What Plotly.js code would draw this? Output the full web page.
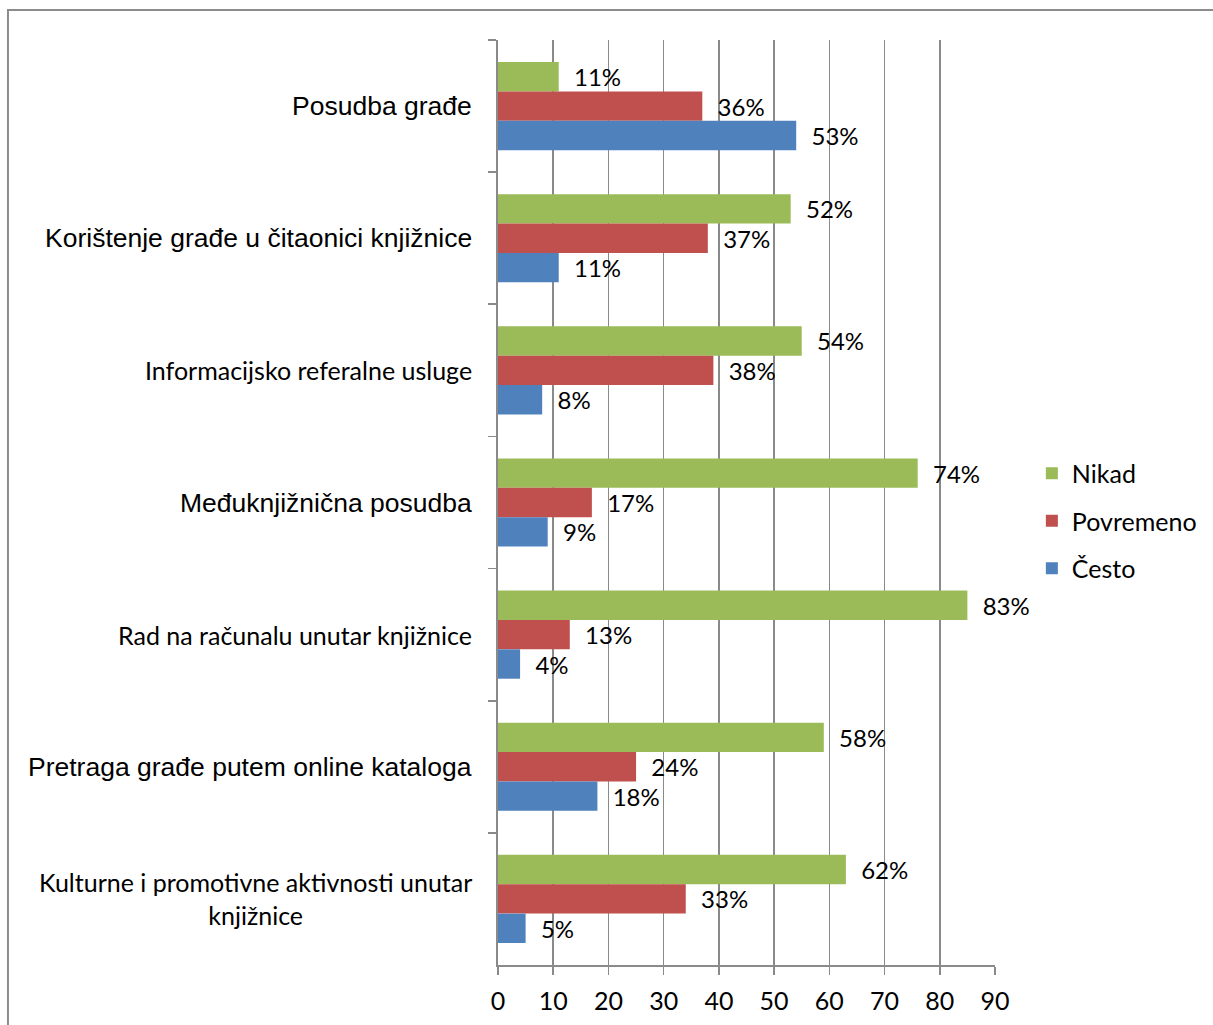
<!DOCTYPE html>
<html>
<head>
<meta charset="utf-8">
<script src="https://cdn.plot.ly/plotly-3.0.1.min.js"></script>
<style>
  html, body { margin: 0; padding: 0; background: #ffffff; }
  #chart { width: 1213px; height: 1025px; }
</style>
</head>
<body>
<div id="chart"></div>
<script>
// ---- data ----
const categories = [
  "Posudba građe",
  "Korištenje građe u čitaonici knjižnice",
  "Informacijsko referalne usluge",
  "Međuknjižnična posudba",
  "Rad na računalu unutar knjižnice",
  "Pretraga građe putem online kataloga",
  "Kulturne i promotivne aktivnosti unutar knjižnice"
];
const categoryLabels = [
  "Posudba građe",
  "Korištenje građe u čitaonici knjižnice",
  "Informacijsko referalne usluge",
  "Međuknjižnična posudba",
  "Rad na računalu unutar knjižnice",
  "Pretraga građe putem online kataloga",
  "Kulturne i promotivne aktivnosti unutar<br>knjižnice"
];
const seriesNames = ["Nikad", "Povremeno", "Često"];
const nikad     = [11, 53, 55, 76, 85, 59, 63];
const povremeno = [37, 38, 39, 17, 13, 25, 34];
const cesto     = [54, 11,  8,  9,  4, 18,  5];
const nikadPct     = [11, 52, 54, 74, 83, 58, 62];
const povremenoPct = [36, 37, 38, 17, 13, 24, 33];
const cestoPct     = [53, 11,  8,  9,  4, 18,  5];
const xTicks = [0, 10, 20, 30, 40, 50, 60, 70, 80, 90];

// ---- style ----
const colors = ["#9BBB59", "#C0504D", "#4F81BD"];
const arialLabel = [true, true, false, true, false, true, false];
const calibriLike = "Lato, 'Open Sans', sans-serif";
const arialLike = "'Liberation Sans', Arial, sans-serif";
const gridColor = "#8a8a8a";
const pad = "\u00a0\u00a0";

const values = [nikad, povremeno, cesto];
const pcts = [nikadPct, povremenoPct, cestoPct];

const traces = values.map((v, i) => ({
  type: "bar",
  orientation: "h",
  name: seriesNames[i],
  legendgroup: "g" + i,
  x: v,
  y: categories,
  marker: { color: colors[i] },
  text: pcts[i].map(p => pad + p + "%"),
  textposition: "outside",
  constraintext: "none",
  cliponaxis: false,
  textfont: { family: calibriLike, size: 24, color: "#000000" },
  hoverinfo: "skip"
}));

const annotations = categories.map((c, i) => ({
  x: 0, xref: "x",
  y: c, yref: "y",
  xanchor: "right",
  yanchor: "middle",
  xshift: -24,
  align: "center",
  showarrow: false,
  text: categoryLabels[i],
  font: arialLabel[i]
    ? { family: arialLike, size: 26.5, color: "#000000" }
    : { family: calibriLike, size: 25, color: "#000000" }
}));

const layout = {
  width: 1213,
  height: 1025,
  margin: { l: 498, r: 217, t: 40, b: 60 },
  paper_bgcolor: "#ffffff",
  plot_bgcolor: "#ffffff",
  barmode: "group",
  bargap: 0.333,
  bargroupgap: 0,
  showlegend: true,
  legend: {
    x: 1.072, xanchor: "left",
    y: 0.48, yanchor: "middle",
    font: { family: calibriLike, size: 25, color: "#000000" },
    tracegroupgap: 12,
    bgcolor: "rgba(0,0,0,0)"
  },
  xaxis: {
    range: [0, 90],
    tickvals: xTicks,
    ticktext: xTicks.map(String),
    showgrid: true,
    gridcolor: gridColor,
    gridwidth: 1.6,
    zeroline: false,
    showline: true,
    linecolor: gridColor,
    linewidth: 1.6,
    ticks: "outside",
    ticklen: 8,
    tickwidth: 1.6,
    tickcolor: gridColor,
    ticklabelstandoff: 5,
    tickfont: { family: calibriLike, size: 25, color: "#000000" },
    fixedrange: true
  },
  yaxis: {
    type: "category",
    autorange: "reversed",
    showticklabels: false,
    showgrid: false,
    zeroline: false,
    showline: true,
    linecolor: gridColor,
    linewidth: 1.6,
    ticks: "outside",
    tickson: "boundaries",
    ticklen: 8,
    tickwidth: 1.6,
    tickcolor: gridColor,
    fixedrange: true
  },
  annotations: annotations,
  shapes: [{
    type: "rect",
    xref: "paper", yref: "paper",
    x0: -0.986, x1: 1.46,
    y0: -0.08, y1: 1.0324,
    line: { color: "#8c8c8c", width: 2 },
    fillcolor: "rgba(0,0,0,0)",
    layer: "below"
  }]
};

Plotly.newPlot("chart", traces, layout, { displayModeBar: false, staticPlot: true });
</script>
</body>
</html>
